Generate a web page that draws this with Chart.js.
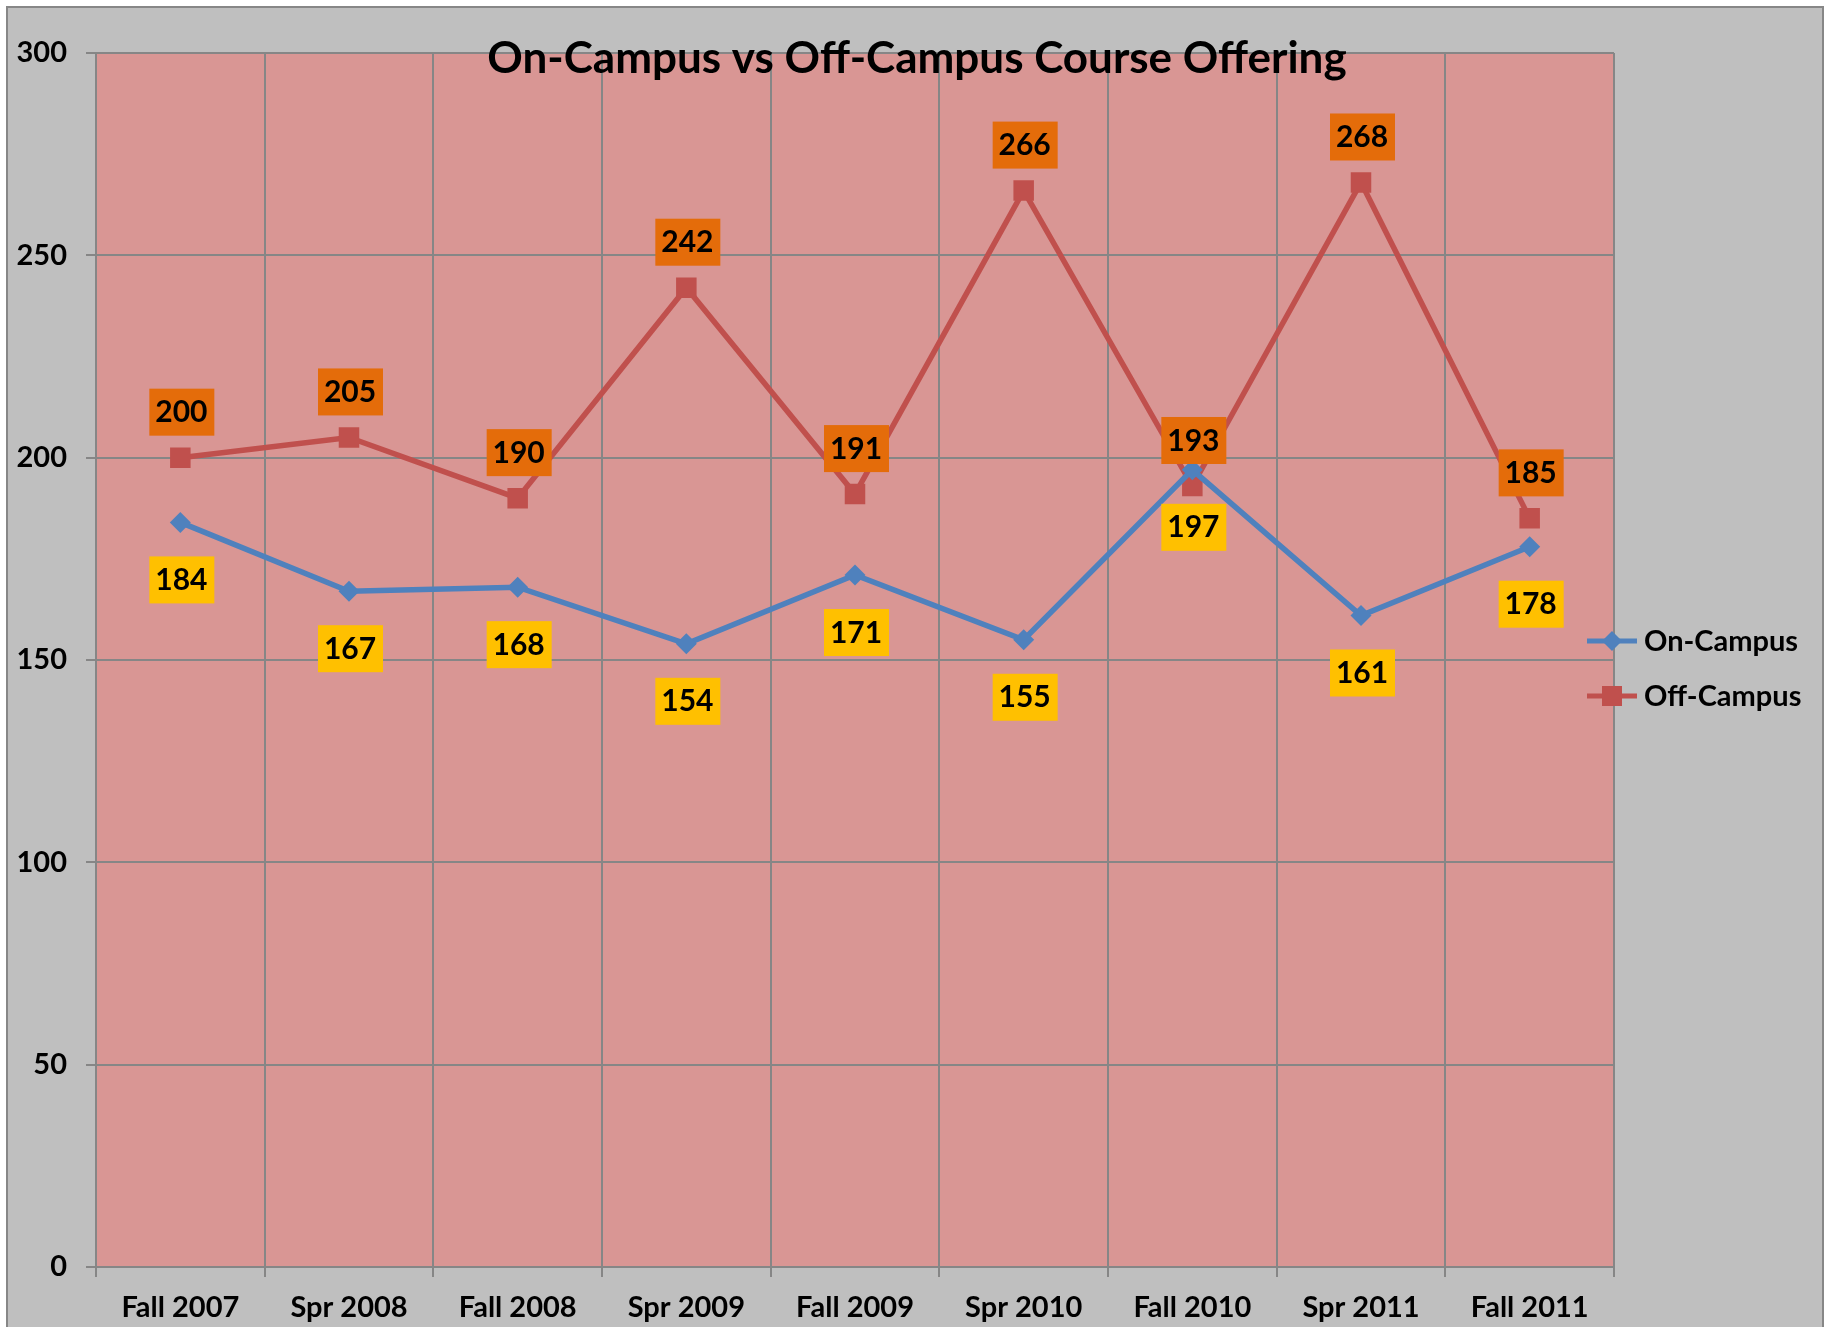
<!DOCTYPE html>
<html>
<head>
<meta charset="utf-8">
<script src="https://cdn.jsdelivr.net/npm/chart.js"></script>
<style>
  html, body { margin: 0; padding: 0; overflow: hidden; background: #fff; }
  #wrap { position: absolute; left: 0; top: 0; width: 1834px; height: 1327px; }
</style>
</head>
<body>
<div id="wrap"><canvas id="chart"></canvas></div>
<script>
// semesters on the x axis
const categories = ["Fall 2007", "Spr 2008", "Fall 2008", "Spr 2009", "Fall 2009",
  "Spr 2010", "Fall 2010", "Spr 2011", "Fall 2011"];

// course counts per semester
const onCampus = [184, 167, 168, 154, 171, 155, 197, 161, 178];
const offCampus = [200, 205, 190, 242, 191, 266, 193, 268, 185];

const seriesNames = ["On-Campus", "Off-Campus"];

// y axis range
const yMin = 0;
const yMax = 300;
const yStep = 50;

const FONT = "Lato";
const BLUE = "#4F81BD";
const RED = "#C0504D";
const GRID = "#868686";

// gray frame + pink plot area
const framePlugin = {
  id: "frame",
  beforeDraw(chart) {
    const ctx = chart.ctx;
    const a = chart.chartArea;
    ctx.save();
    ctx.fillStyle = "#fff";
    ctx.fillRect(0, 0, chart.width, chart.height);
    ctx.fillStyle = "#BFBFBF";
    ctx.fillRect(7, 7, 1816, 1340);
    ctx.strokeStyle = "#878787";
    ctx.lineWidth = 2;
    ctx.strokeRect(7, 7, 1816, 1340);
    ctx.fillStyle = "#D99694";
    ctx.fillRect(a.left, a.top, a.right - a.left, a.bottom - a.top);
    ctx.restore();
  }
};

// boxed value labels (above for off-campus, below for on-campus)
const labelPlugin = {
  id: "valueLabels",
  afterDatasetsDraw(chart) {
    const ctx = chart.ctx;
    ctx.save();
    ctx.font = "bold 30px " + FONT;
    ctx.textAlign = "center";
    ctx.textBaseline = "middle";
    chart.data.datasets.forEach((ds, i) => {
      const meta = chart.getDatasetMeta(i);
      const below = i === 0;
      meta.data.forEach((pt, j) => {
        const cx = pt.x + 1;
        const cy = below ? pt.y + 57 : pt.y - 46;
        ctx.fillStyle = below ? "#FFC000" : "#E46C0A";
        ctx.fillRect(cx - 32, cy - 23, 65, 47);
        ctx.fillStyle = "#000";
        ctx.fillText(String(ds.data[j]), cx, cy + 1);
      });
    });
    ctx.restore();
  }
};

// legend with line + marker, like excel
const legendPlugin = {
  id: "lineLegend",
  afterDraw(chart) {
    const ctx = chart.ctx;
    const a = chart.chartArea;
    const mid = (a.top + a.bottom) / 2;
    ctx.save();
    chart.data.datasets.forEach((ds, i) => {
      const y = mid - 19 + i * 55;
      const x0 = a.right - 27;
      const x1 = a.right + 23;
      const mx = (x0 + x1) / 2;
      ctx.strokeStyle = ds.borderColor;
      ctx.lineWidth = 5;
      ctx.beginPath();
      ctx.moveTo(x0, y);
      ctx.lineTo(x1, y);
      ctx.stroke();
      ctx.fillStyle = ds.borderColor;
      if (ds.pointStyle === "rectRot") {
        ctx.beginPath();
        ctx.moveTo(mx - 10, y);
        ctx.lineTo(mx, y - 10);
        ctx.lineTo(mx + 10, y);
        ctx.lineTo(mx, y + 10);
        ctx.closePath();
        ctx.fill();
      } else {
        ctx.fillRect(mx - 10, y - 10, 20, 20);
      }
      ctx.fillStyle = "#000";
      ctx.font = "bold 29px " + FONT;
      ctx.textAlign = "left";
      ctx.textBaseline = "middle";
      ctx.fillText(ds.label, a.right + 30, y + 1);
    });
    ctx.restore();
  }
};

const tickFont = { family: FONT, size: 29, weight: "bold" };

new Chart(document.getElementById("chart"), {
  type: "line",
  data: {
    labels: categories,
    datasets: [{
      label: seriesNames[0],
      data: onCampus,
      borderColor: BLUE,
      backgroundColor: BLUE,
      borderWidth: 5.5,
      pointStyle: "rectRot",
      pointRadius: 10.5,
      pointBorderWidth: 0,
      tension: 0
    }, {
      label: seriesNames[1],
      data: offCampus,
      borderColor: RED,
      backgroundColor: RED,
      borderWidth: 5.5,
      pointStyle: "rect",
      pointRadius: 14.5,
      pointBorderWidth: 0,
      tension: 0
    }]
  },
  options: {
    responsive: true,
    maintainAspectRatio: false,
    animation: false,
    layout: { padding: 0 },
    plugins: {
      legend: { display: false },
      tooltip: { enabled: false },
      title: {
        display: true,
        text: "On-Campus vs Off-Campus Course Offering",
        color: "#000",
        font: { family: FONT, size: 44, weight: "bold", lineHeight: 1 },
        padding: { top: 37, bottom: -28 }
      }
    },
    scales: {
      x: {
        offset: true,
        grid: { offset: true, color: GRID, lineWidth: 2, tickLength: 10, z: -1 },
        border: { color: GRID, width: 2 },
        ticks: { color: "#000", font: tickFont, padding: 13, maxRotation: 0, autoSkip: false },
        afterFit(s) { s.height = 60; }
      },
      y: {
        min: yMin,
        max: yMax,
        grid: { color: GRID, lineWidth: 2, tickLength: 10, z: -1 },
        border: { color: GRID, width: 2 },
        ticks: { stepSize: yStep, color: "#000", font: tickFont, padding: 19 },
        afterFit(s) { s.width = 96; }
      },
      // empty axis that just reserves room for the legend on the right
      legendSpace: {
        position: "right",
        min: yMin,
        max: yMax,
        grid: { display: false },
        border: { display: false },
        ticks: { display: false },
        afterFit(s) { s.width = 220; }
      }
    }
  },
  plugins: [framePlugin, labelPlugin, legendPlugin]
});
</script>
</body>
</html>
